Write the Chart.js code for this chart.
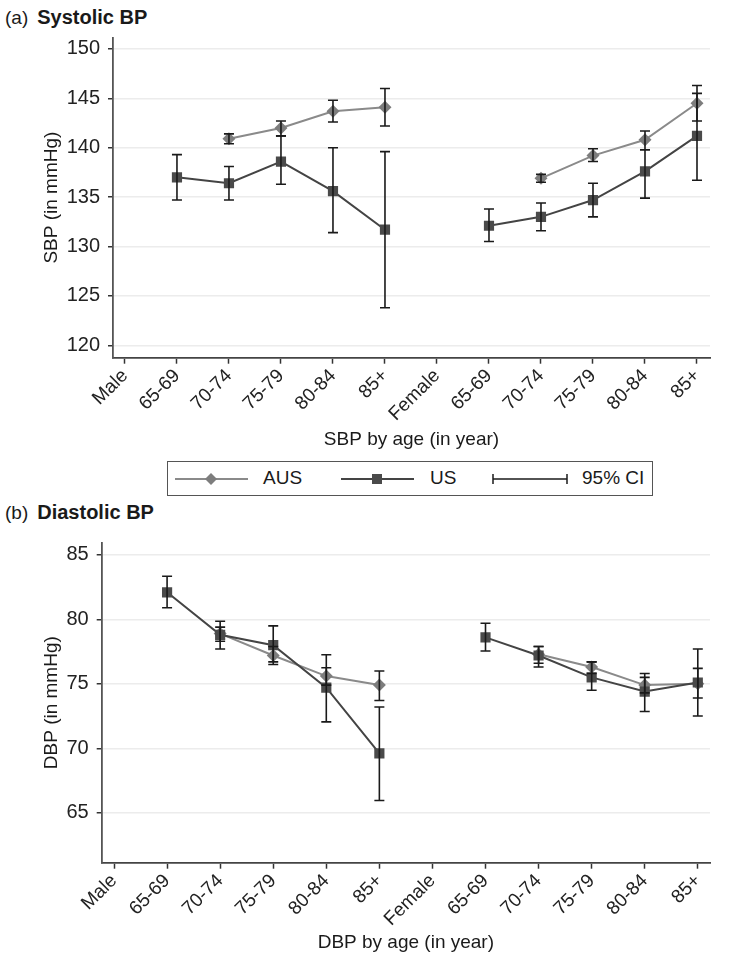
<!DOCTYPE html>
<html>
<head>
<meta charset="utf-8">
<script src="https://cdn.jsdelivr.net/npm/chart.js@4.4.1/dist/chart.umd.min.js"></script>
<style>
  body { margin: 0; background: #fff; width: 747px; height: 962px; position: relative; overflow: hidden;
         font-family: "Liberation Sans", Arial, sans-serif; color: #1a1a1a; }
  .box { position: absolute; left: 0; width: 747px; }
  .head { position: absolute; left: 5px; font-size: 19px; line-height: 22px; white-space: nowrap; }
  .head b { font-size: 20px; margin-left: 9px; }
  .legend { position: absolute; left: 167px; top: 461px; width: 486px; height: 35px;
            border: 1.5px solid #555; box-sizing: border-box; }
  .legend svg, .legend span { position: absolute; }
  .legend span { font-size: 19px; line-height: 22px; top: 5px; }
</style>
</head>
<body>

<div class="head" style="top:6px">(a)<b>Systolic BP</b></div>
<div class="box" style="top:0;height:460px"><canvas id="sbp" width="747" height="460"></canvas></div>

<div class="legend">
  <svg style="left:7px;top:7px" width="74" height="20">
    <line x1="0" y1="10" x2="73" y2="10" stroke="#8a8a8a" stroke-width="2"/>
    <polygon points="36,4 42,10 36,16 30,10" fill="#7d7d7d"/>
  </svg>
  <span style="left:95px">AUS</span>
  <svg style="left:173px;top:7px" width="74" height="20">
    <line x1="0" y1="10" x2="73" y2="10" stroke="#444" stroke-width="2"/>
    <rect x="31" y="5" width="10" height="10" fill="#4a4a4a"/>
  </svg>
  <span style="left:262px">US</span>
  <svg style="left:324px;top:7px" width="78" height="20">
    <line x1="1" y1="10" x2="75" y2="10" stroke="#1a1a1a" stroke-width="1.5"/>
    <line x1="1" y1="5" x2="1" y2="15" stroke="#1a1a1a" stroke-width="1.5"/>
    <line x1="75" y1="5" x2="75" y2="15" stroke="#1a1a1a" stroke-width="1.5"/>
  </svg>
  <span style="left:414px">95% CI</span>
</div>

<div class="head" style="top:501px">(b)<b>Diastolic BP</b></div>
<div class="box" style="top:500px;height:462px"><canvas id="dbp" width="747" height="462"></canvas></div>

<script>
const xLabels = ['Male', '65-69', '70-74', '75-79', '80-84', '85+',
                 'Female', '65-69', '70-74', '75-79', '80-84', '85+'];

// systolic
const sbpTicks = [120, 125, 130, 135, 140, 145, 150];
const sbpAus   = [null, null, 140.9, 142.0, 143.7, 144.1, null, null, 136.9, 139.2, 140.8, 144.5];
const sbpAusLo = [null, null, 140.4, 141.2, 142.6, 142.2, null, null, 136.5, 138.6, 139.8, 142.7];
const sbpAusHi = [null, null, 141.4, 142.7, 144.8, 146.0, null, null, 137.3, 139.9, 141.7, 146.3];
const sbpUs    = [null, 137.0, 136.4, 138.6, 135.6, 131.7, null, 132.1, 133.0, 134.7, 137.6, 141.2];
const sbpUsLo  = [null, 134.7, 134.7, 136.3, 131.4, 123.8, null, 130.5, 131.6, 133.0, 134.9, 136.7];
const sbpUsHi  = [null, 139.3, 138.1, 141.2, 140.0, 139.6, null, 133.8, 134.4, 136.4, 139.8, 145.5];

// diastolic
const dbpTicks = [65, 70, 75, 80, 85];
const dbpAus   = [null, null, 78.9, 77.2, 75.6, 74.9, null, null, 77.3, 76.3, 74.9, 75.0];
const dbpAusLo = [null, null, 78.3, 76.5, 74.9, 73.7, null, null, 76.6, 75.8, 74.3, 73.9];
const dbpAusHi = [null, null, 79.4, 77.9, 76.25, 76.0, null, null, 77.9, 76.7, 75.5, 76.2];
const dbpUs    = [null, 82.1, 78.8, 78.0, 74.7, 69.6, null, 78.6, 77.2, 75.5, 74.4, 75.1];
const dbpUsLo  = [null, 80.9, 77.7, 76.7, 72.05, 65.95, null, 77.55, 76.3, 74.5, 72.85, 72.5];
const dbpUsHi  = [null, 83.35, 79.85, 79.5, 77.25, 73.2, null, 79.7, 77.9, 76.7, 75.8, 77.7];

Chart.defaults.font.family = '"Liberation Sans", Arial, sans-serif';
Chart.defaults.color = '#1a1a1a';

// whiskers with caps, drawn over the markers
const errorBars = {
  id: 'errorBars',
  afterDatasetsDraw(chart) {
    const { ctx, scales: { x, y } } = chart;
    ctx.save();
    ctx.strokeStyle = '#1a1a1a';
    ctx.lineWidth = 1.6;
    chart.data.datasets.forEach(ds => {
      ds.lo.forEach((lo, i) => {
        if (lo == null) return;
        const px = x.getPixelForValue(i);
        const y1 = y.getPixelForValue(lo);
        const y2 = y.getPixelForValue(ds.hi[i]);
        ctx.beginPath();
        ctx.moveTo(px, y1); ctx.lineTo(px, y2);
        ctx.moveTo(px - 5, y1); ctx.lineTo(px + 5, y1);
        ctx.moveTo(px - 5, y2); ctx.lineTo(px + 5, y2);
        ctx.stroke();
      });
    });
    ctx.restore();
  }
};

const pts = arr => arr.map((v, i) => ({ x: i, y: v }));

function makeChart(id, s) {
  new Chart(document.getElementById(id), {
    type: 'line',
    data: {
      datasets: [{
        label: 'US',
        data: pts(s.us), lo: s.usLo, hi: s.usHi,
        borderColor: '#444', borderWidth: 2,
        pointStyle: 'rect', pointRadius: 7.2, pointBackgroundColor: '#4a4a4a', pointBorderWidth: 0
      }, {
        label: 'AUS',
        data: pts(s.aus), lo: s.ausLo, hi: s.ausHi,
        borderColor: '#8a8a8a', borderWidth: 2,
        pointStyle: 'rectRot', pointRadius: 6.5, pointBackgroundColor: '#7d7d7d', pointBorderWidth: 0
      }]
    },
    options: {
      responsive: false,
      animation: false,
      devicePixelRatio: 1,
      layout: { padding: { top: s.padTop, right: 37, left: 0, bottom: 0 } },
      plugins: { legend: { display: false }, tooltip: { enabled: false } },
      scales: {
        x: {
          type: 'linear', min: s.xMin, max: s.xMax,
          afterBuildTicks: sc => { sc.ticks = xLabels.map((_, i) => ({ value: i })); },
          afterFit: sc => { sc.height = s.xH; },
          ticks: { autoSkip: false, minRotation: 45, maxRotation: 45, padding: 1,
                   font: { size: 19 }, color: '#222', callback: v => xLabels[v] },
          grid: { drawOnChartArea: false, tickLength: 6, tickColor: '#333', tickWidth: 1.5 },
          border: { color: '#444', width: 1.8 },
          title: { display: true, text: s.xTitle, font: { size: 19 }, color: '#1a1a1a',
                   padding: { top: 0, bottom: s.xTitlePad } }
        },
        y: {
          min: s.yMin, max: s.yMax,
          afterBuildTicks: sc => { sc.ticks = s.yTicks.map(v => ({ value: v })); },
          afterFit: sc => { sc.width = s.yW; },
          ticks: { font: { size: 20 }, color: '#222', padding: 8 },
          grid: { color: '#ececec', lineWidth: 1.5, tickColor: '#333', tickLength: 5, tickWidth: 1.5 },
          border: { color: '#555', width: 1.8 },
          title: { display: true, text: s.yTitle, font: { size: 19 }, color: '#1a1a1a',
                   padding: { top: 40, bottom: 0 } }
        }
      }
    },
    plugins: [errorBars]
  });
}

makeChart('sbp', {
  aus: sbpAus, ausLo: sbpAusLo, ausHi: sbpAusHi,
  us: sbpUs, usLo: sbpUsLo, usHi: sbpUsHi,
  yTicks: sbpTicks, yMin: 118.74, yMax: 151.16,
  xMin: -0.23, xMax: 11.25,
  yW: 113, xH: 102.3, padTop: 37.5, xTitlePad: 9,
  yTitle: 'SBP (in mmHg)', xTitle: 'SBP by age (in year)'
});

makeChart('dbp', {
  aus: dbpAus, ausLo: dbpAusLo, ausHi: dbpAusHi,
  us: dbpUs, usLo: dbpUsLo, usHi: dbpUsHi,
  yTicks: dbpTicks, yMin: 61.12, yMax: 85.95,
  xMin: -0.232, xMax: 11.23,
  yW: 101.7, xH: 99.3, padTop: 42.7, xTitlePad: 7.5,
  yTitle: 'DBP (in mmHg)', xTitle: 'DBP by age (in year)'
});
</script>
</body>
</html>
